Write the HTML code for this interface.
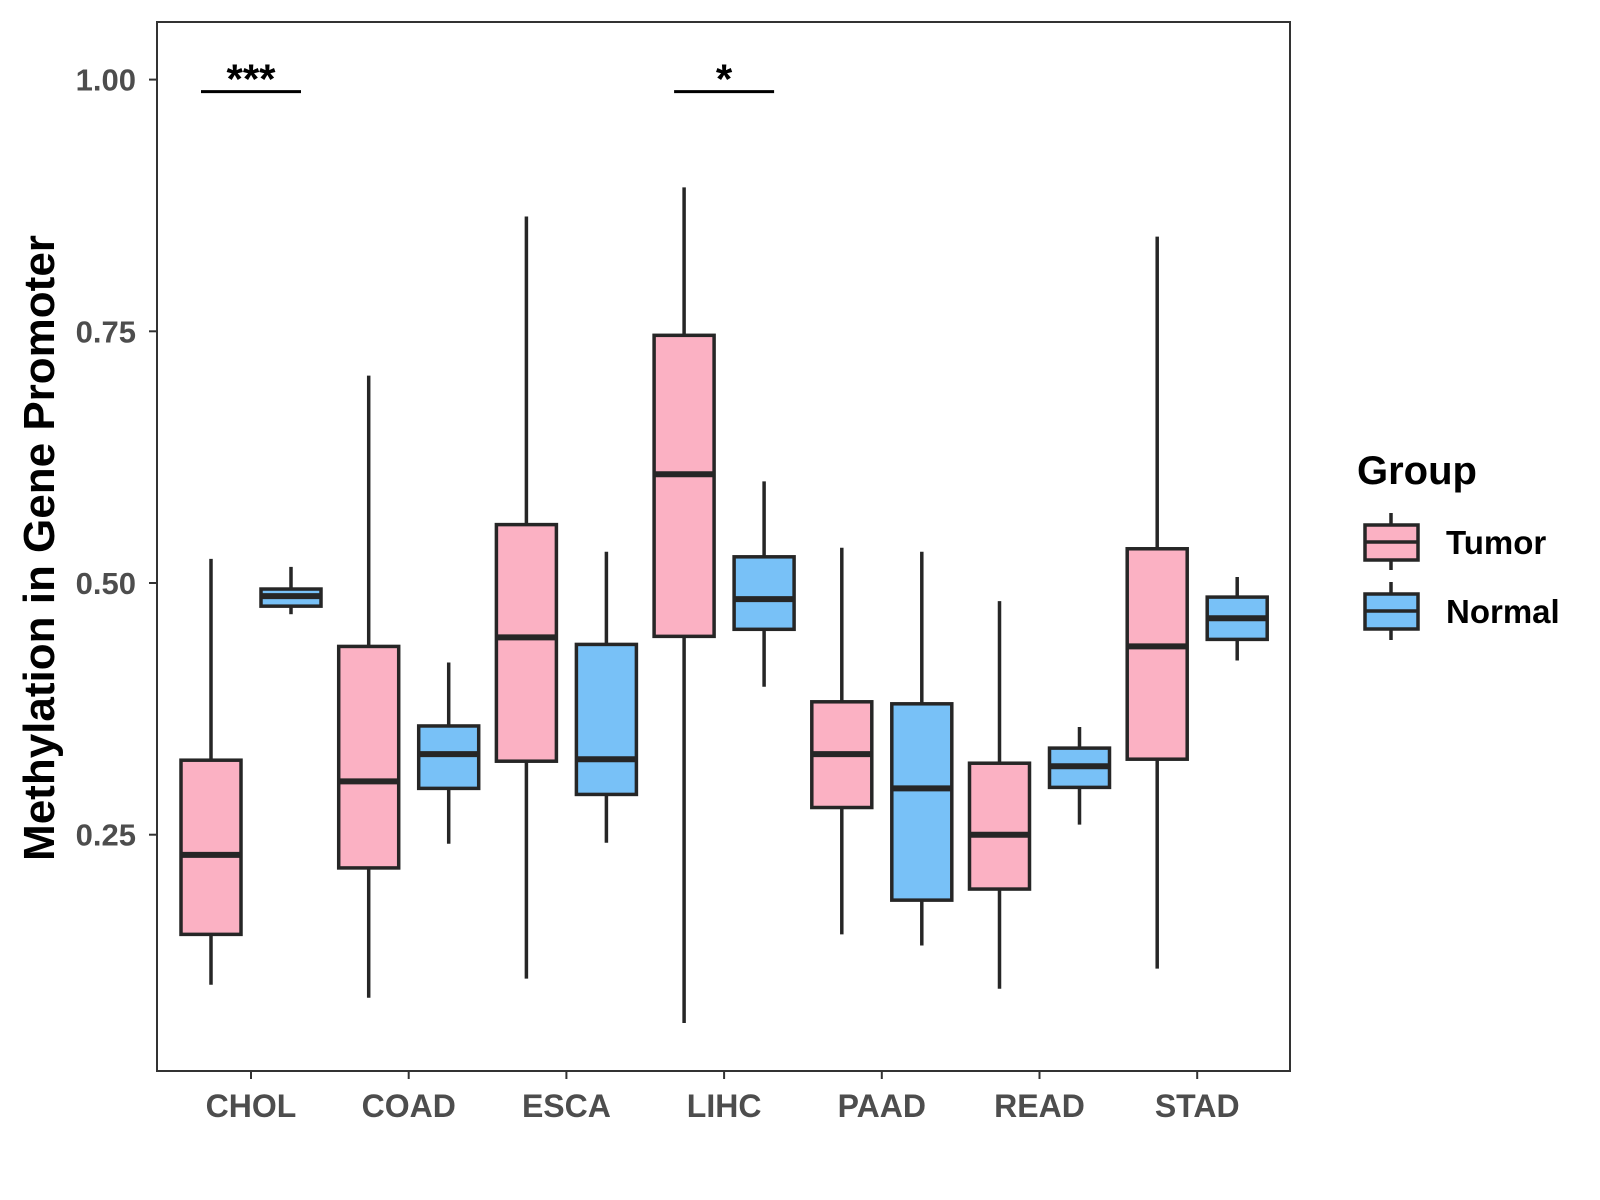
<!DOCTYPE html>
<html><head><meta charset="utf-8"><style>
body{margin:0;background:#fff}
svg{display:block;font-family:"Liberation Sans",Arial,sans-serif}
</style></head><body>
<svg id="chart" width="1600" height="1200" viewBox="0 0 1600 1200">
<rect x="0" y="0" width="1600" height="1200" fill="#fff"/>
<rect x="157" y="22" width="1133" height="1049" fill="none" stroke="#333" stroke-width="2"/>
<g id="marks"></g>
<text x="0" y="0" transform="translate(54,548) rotate(-90)" text-anchor="middle" font-size="44" font-weight="bold" fill="#000">Methylation in Gene Promoter</text>
<g>
<text x="1357" y="484" font-size="40" font-weight="bold" fill="#000">Group</text>
<g>
<line x1="1391" y1="513" x2="1391" y2="570" stroke="#262626" stroke-width="3.5"/>
<rect x="1365" y="525" width="53" height="35" fill="#FBB1C3" stroke="#262626" stroke-width="3.5"/>
<line x1="1365" y1="542" x2="1418" y2="542" stroke="#262626" stroke-width="3.5"/>
<text x="1446" y="554" font-size="33" font-weight="bold" fill="#000">Tumor</text>
</g>
<g>
<line x1="1391" y1="582" x2="1391" y2="640" stroke="#262626" stroke-width="3.5"/>
<rect x="1365" y="594" width="53" height="35" fill="#78C1F7" stroke="#262626" stroke-width="3.5"/>
<line x1="1365" y1="611" x2="1418" y2="611" stroke="#262626" stroke-width="3.5"/>
<text x="1446" y="623" font-size="33" font-weight="bold" fill="#000">Normal</text>
</g>
</g>
</svg>
<script>
const categories=["CHOL","COAD","ESCA","LIHC","PAAD","READ","STAD"];
const tumorLo=[0.101,0.088,0.107,0.063,0.151,0.097,0.117];
const tumorQ1=[0.151,0.217,0.323,0.447,0.277,0.196,0.325];
const tumorMed=[0.230,0.303,0.446,0.608,0.330,0.250,0.437];
const tumorQ3=[0.324,0.437,0.558,0.746,0.382,0.321,0.534];
const tumorHi=[0.524,0.706,0.864,0.893,0.535,0.482,0.844];
const normalLo=[0.469,0.241,0.242,0.397,0.140,0.260,0.423];
const normalQ1=[0.477,0.296,0.290,0.454,0.185,0.297,0.444];
const normalMed=[0.487,0.330,0.325,0.484,0.296,0.318,0.465];
const normalQ3=[0.494,0.358,0.439,0.526,0.380,0.336,0.486];
const normalHi=[0.516,0.421,0.531,0.601,0.531,0.357,0.506];
const yTicks=[0.25,0.50,0.75,1.00];
const yTickLabels=["0.25","0.50","0.75","1.00"];
const sigCats=["CHOL","LIHC"];
const sigLabels=["***","*"];
const sigLevel=0.988;

const NS="http://www.w3.org/2000/svg";
const g=document.getElementById('marks');
const X0=251,STEP=157.7,OFF=40,HW=30;
function x(i){return X0+i*STEP;}
function y(v){return 79.6+(1-v)*1006.8;}
function mk(tag,attrs,parent){const e=document.createElementNS(NS,tag);for(const k in attrs)e.setAttribute(k,attrs[k]);(parent||g).appendChild(e);return e;}
const LC="#262626",LW=3.5;
function box(cx,lo,q1,med,q3,hi,fill,name){
  const grp=mk('g',{});
  
  
  mk('line',{x1:cx,x2:cx,y1:y(hi),y2:y(lo),stroke:LC,'stroke-width':LW},grp);
  mk('rect',{x:cx-HW,y:y(q3),width:2*HW,height:y(q1)-y(q3),fill:fill,stroke:LC,'stroke-width':LW},grp);
  mk('line',{x1:cx-HW,x2:cx+HW,y1:y(med),y2:y(med),stroke:LC,'stroke-width':6},grp);
}
categories.forEach((c,i)=>{
  box(x(i)-OFF,tumorLo[i],tumorQ1[i],tumorMed[i],tumorQ3[i],tumorHi[i],"#FBB1C3","box-tumor-"+c.toLowerCase());
  box(x(i)+OFF,normalLo[i],normalQ1[i],normalMed[i],normalQ3[i],normalHi[i],"#78C1F7","box-normal-"+c.toLowerCase());
  const t=mk('line',{x1:x(i),x2:x(i),y1:1071,y2:1079,stroke:"#333",'stroke-width':2});
  
  
  const l=mk('text',{x:x(i),y:1117,'text-anchor':'middle','font-size':32,'font-weight':'bold',fill:'#4d4d4d'});
  l.textContent=c;
  
  
});
yTicks.forEach((v,i)=>{
  const t=mk('line',{x1:149,x2:157,y1:y(v),y2:y(v),stroke:"#333",'stroke-width':2});
  
  
  const l=mk('text',{x:136,y:y(v)+11,'text-anchor':'end','font-size':31,'font-weight':'bold',fill:'#4d4d4d'});
  l.textContent=yTickLabels[i];
  
  
});
sigCats.forEach((c,k)=>{
  const i=categories.indexOf(c);
  const ln=mk('line',{x1:x(i)-50,x2:x(i)+50,y1:y(sigLevel),y2:y(sigLevel),stroke:"#000",'stroke-width':3});
  
  
  const s=mk('text',{x:x(i),y:y(sigLevel)+2,'text-anchor':'middle','font-size':42,'font-weight':'bold',fill:'#000'});
  s.textContent=sigLabels[k];
  
  
});
</script>
</body></html>
